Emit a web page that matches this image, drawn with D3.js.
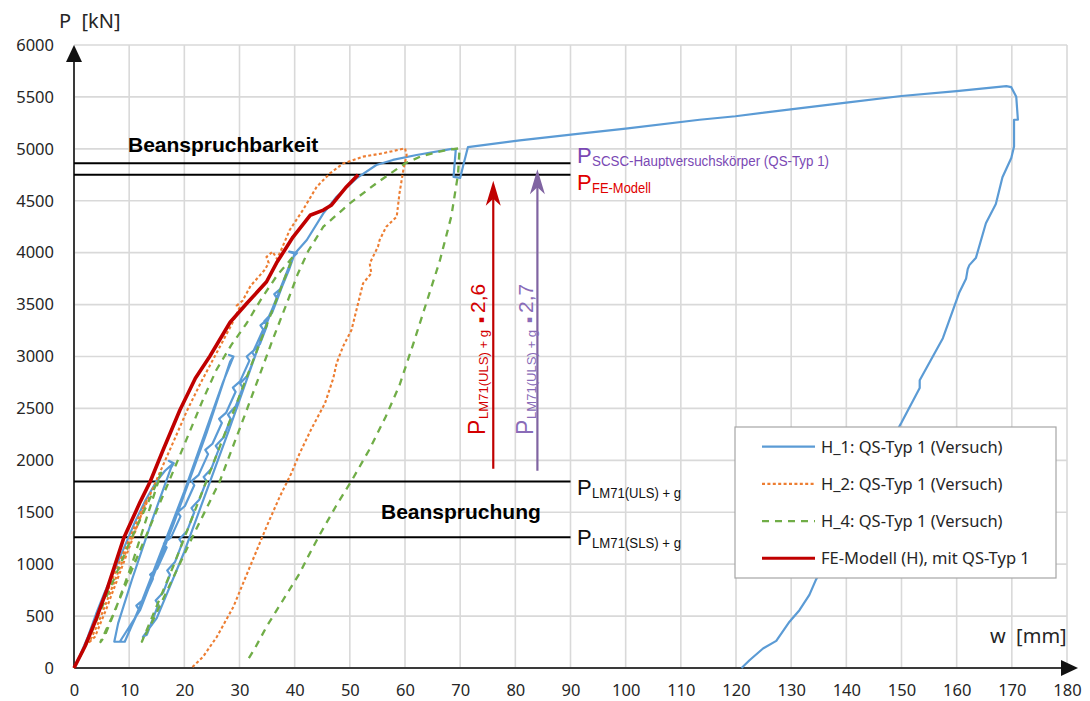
<!DOCTYPE html>
<html>
<head>
<meta charset="utf-8">
<script src="https://cdn.jsdelivr.net/npm/d3@7"></script>
<style>
  html, body { margin: 0; padding: 0; background: #fff; }
  svg { display: block; }
</style>
</head>
<body>
<svg id="chart" width="1090" height="701"></svg>
<script>
// ---- Data: deflection w [mm] and load P [kN] ----
const xTicks = d3.range(0, 181, 10);
const yTicks = d3.range(0, 6001, 500);

// H_1: QS-Typ 1 (Versuch)
const h1Points = [
  [0,0],[1,110],[2.5,300],[4,520],[5.5,720],[7,900],[9,1150],[11,1400],[13,1620],[15,1800],[16.5,1900],[18,1970],
  [17.2,1995],[18.1,1972],[17.6,1930],
  [14,1400],[10.5,850],[8,430],[7.3,253],[9.2,253],
  [12,600],[16,1150],[20,1700],[24,2300],[27,2750],[28.9,3000],
  [28.1,3015],[28.9,3000],[28.3,2950],
  [24,2260],[18,1380],[12,560],[8.3,253],[9.2,253],
  [10.4,400],[11.8,560],[11.3,600],[12.6,660],[14.3,860],[13.8,900],[15.1,960],[16.8,1160],[16.3,1200],[17.6,1260],
  [19.3,1460],[18.8,1500],[20.1,1560],[21.8,1760],[21.3,1800],[22.6,1860],[24.3,2060],[23.8,2100],[25.1,2160],
  [26.8,2360],[26.3,2400],[27.6,2460],[29.3,2660],[28.8,2700],[30.1,2760],[31.8,2960],[31.3,3000],[32.6,3060],
  [34.3,3260],[33.8,3300],[35.1,3360],[36.8,3560],[36.3,3600],[37.6,3660],[39,3840],[40,3990],
  [39,4010],[40.4,3995],[39.6,3950],
  [35,3330],[28,2280],[20,1120],[15,480],[12.5,300],[13.2,320],
  [14.2,460],[15.3,610],[14.8,650],[16.2,730],[17.4,900],[16.9,940],[18.3,1020],[19.6,1200],[19.1,1240],[20.5,1320],
  [21.8,1500],[21.3,1540],[22.7,1620],[24,1800],[23.5,1840],[24.9,1920],[26.2,2100],[25.7,2140],[27.1,2220],
  [28.4,2400],[27.9,2440],[29.3,2520],[30.6,2700],[30.1,2740],[31.5,2820],[32.8,3000],[32.3,3040],[33.7,3120],
  [35,3300],[34.5,3340],[35.9,3420],[36.8,3544],[38.6,3800],[40,3990],
  [42.2,4122],[45.2,4379],[47.6,4539],[51.2,4716],[54.8,4844],[57.8,4893],[62.1,4941],[68.5,5000],[69.2,4990],
  [68.8,4730],[70,4720],[70.6,4850],[71.4,5016],[80.8,5082],[91.7,5147],[100,5195],[113.4,5280],[119.9,5314],
  [129.9,5380],[140,5445],[150,5509],[160,5556],[169,5604],[169.9,5594],[170.8,5501],[171.1,5280],[170.4,5280],
  [170.4,5022],[169.9,4911],[168.3,4726],[167.1,4468],[165.3,4283],[163.5,3952],[162.3,3880],[162,3841],
  [161.7,3748],[160.5,3619],[157.5,3176],[153.3,2771],[153.3,2697],[150,2364],[142,1600],[134.5,851],
  [133.3,704],[131.5,557],[129.7,446],[127.3,261],[124.9,188],[122.5,77],[121,0]
];

// H_2: QS-Typ 1 (Versuch)
const h2Points = [
  [0,0],[1.8,180],[3.5,400],[5.6,680],[7.7,950],[9.7,1200],[11.7,1450],[13.2,1620],
  [11,1300],[8.4,930],[5.8,560],[3.8,300],[2.8,250],
  [4.3,420],[6.8,760],[9.3,1100],[11.8,1420],[14.2,1720],[16.2,1960],[18.2,2200],[20.5,2480],[23,2750],
  [25.5,3000],[27,3150],[28.5,3300],[30,3470],[29.5,3490],[30.6,3540],[32,3680],[34.5,3830],[35.3,3900],
  [34.9,3960],[36,4010],[36.8,3940],[37.5,4020],[39.1,4218],[41.5,4411],[44,4635],[46.4,4764],[48.8,4860],
  [52.4,4925],[56,4957],[60,5005],
  [60.3,4941],[59.7,4796],[59,4572],[58.5,4347],[56.6,4250],[55.4,4122],[55.1,4057],[53.6,3897],[53.9,3801],
  [52.4,3705],[51.2,3448],[50.3,3255],[48.8,3100],[47.6,2935],[47,2790],[45.5,2550],[43,2300],[40.9,2067],
  [39.4,1875],[37.3,1650],[34.9,1361],[31.9,976],[28.9,590],[25.9,301],[23.4,109],[21.3,0]
];

// H_4: QS-Typ 1 (Versuch)
const h4Points = [
  [0,0],[2,200],[4,450],[6,700],[8,950],[10,1200],[12,1430],[14,1660],[15.8,1880],
  [13.5,1500],[10.5,1000],[7.5,560],[5.5,300],[4.8,250],
  [6.8,480],[9.5,820],[12.5,1200],[15.5,1580],[18.5,1960],[21,2280],[23.5,2600],[25.8,2870],
  [28.5,3110],[31.3,3320],[34,3560],[36.8,3780],[39.7,3961],
  [36,3450],[30,2620],[24,1800],[18,980],[14,470],[12.3,253],
  [14.5,480],[17,760],[19.5,1040],[22,1320],[24.5,1590],[26.4,1794],[28.5,2090],[31,2440],[33.5,2800],
  [36,3160],[38.8,3544],[40.6,3800],[42.5,4020],[45.2,4250],[50,4475],[54.8,4668],[60,4860],[63,4930],
  [67.5,4989],[69.9,5005],
  [69.6,4750],[68.4,4351],[66.3,3920],[63.9,3521],[61.5,3122],[59,2723],[56.5,2420],[53.5,2100],[50.5,1820],
  [47.5,1560],[44.5,1280],[42.5,1080],[40.9,912],[37.9,655],[34.9,398],[32.8,190],[31.3,60]
];

// FE-Modell (H), mit QS-Typ 1
const fePoints = [
  [0,0],[2,210],[4,470],[6,760],[9,1250],[12,1600],[13.8,1794],[16,2080],[19.2,2485],[22,2790],[24.6,3000],
  [28.3,3330],[31.3,3510],[34.9,3720],[36.7,3900],[39.7,4150],[42.8,4360],[45.2,4410],[46.7,4460],[49.4,4635],[51.5,4750]
];

// Reference load levels [kN]
const pScsc = 4860;
const pFe = 4750;
const pUls = 1795;
const pSls = 1260;
// Position of the vertical factor arrows [mm] and their start load [kN]
const arrowW = [76, 84];
const arrowFrom = [1920, 1900];

const legendLabels = [
  "H_1: QS-Typ 1 (Versuch)",
  "H_2: QS-Typ 1 (Versuch)",
  "H_4: QS-Typ 1 (Versuch)",
  "FE-Modell (H), mit QS-Typ 1"
];

// ---- Drawing ----
const svg = d3.select("#chart");
const x = d3.scaleLinear().domain([0, 180]).range([74, 1067]);
const y = d3.scaleLinear().domain([0, 6000]).range([668, 45]);

const numFont = "'Noto Sans', 'Open Sans', sans-serif";
const arial = "'Liberation Sans', Arial, sans-serif";
const textCol = "#262626";

svg.append("rect").attr("width", 1090).attr("height", 701).attr("fill", "#fff");

// grid
const grid = svg.append("g").attr("stroke", "#d9d9d9").attr("stroke-width", 1.6);
grid.selectAll("line.v").data(xTicks.filter(d => d > 0)).join("line")
  .attr("x1", d => x(d)).attr("x2", d => x(d)).attr("y1", y(0)).attr("y2", y(6000));
grid.selectAll("line.h").data(yTicks.filter(d => d > 0)).join("line")
  .attr("x1", x(0)).attr("x2", x(180)).attr("y1", d => y(d)).attr("y2", d => y(d));

// axes tick labels
const xAxis = svg.append("g").attr("transform", `translate(0,${y(0)})`)
  .call(d3.axisBottom(x).tickValues(xTicks).tickFormat(d3.format("d")).tickSize(0).tickPadding(16));
const yAxis = svg.append("g").attr("transform", `translate(${x(0)},0)`)
  .call(d3.axisLeft(y).tickValues(yTicks).tickFormat(d3.format("d")).tickSize(0).tickPadding(20));
[xAxis, yAxis].forEach(a => {
  a.select(".domain").remove();
  a.selectAll("text").attr("font-family", numFont).attr("font-size", 16.5).attr("fill", textCol);
});

// axis lines with arrowheads
svg.append("line").attr("x1", x(0)).attr("x2", x(0)).attr("y1", y(0)).attr("y2", 60)
  .attr("stroke", "#3a3a3a").attr("stroke-width", 2);
svg.append("path").attr("d", `M${x(0)},45 L${x(0)-8},62 L${x(0)+8},62 Z`).attr("fill", "#111");
svg.append("line").attr("x1", x(0)).attr("x2", 1062).attr("y1", y(0)).attr("y2", y(0))
  .attr("stroke", "#3a3a3a").attr("stroke-width", 2);
svg.append("path").attr("d", `M1078,${y(0)} L1061,${y(0)-8} L1061,${y(0)+8} Z`).attr("fill", "#111");

// axis titles
svg.append("text").attr("x", 59).attr("y", 28).attr("font-family", numFont).attr("font-size", 20)
  .attr("fill", textCol).attr("xml:space", "preserve").text("P  [kN]");
svg.append("text").attr("x", 990).attr("y", 643).attr("font-family", numFont).attr("font-size", 20)
  .attr("fill", textCol).attr("xml:space", "preserve").text("w  [mm]");

// reference levels
const refLevels = [pScsc, pFe, pUls, pSls];
svg.append("g").selectAll("line").data(refLevels).join("line")
  .attr("x1", x(0)).attr("x2", x(90)).attr("y1", d => y(d)).attr("y2", d => y(d))
  .attr("stroke", "#000").attr("stroke-width", 2);

// curves
const line = d3.line().x(d => x(d[0])).y(d => y(d[1]));
const series = [
  { pts: h1Points, color: "#5b9bd5", width: 2.2, dash: null },
  { pts: h2Points, color: "#ed7d31", width: 2.1, dash: "3,2.4" },
  { pts: h4Points, color: "#70ad47", width: 2.3, dash: "7,6" },
  { pts: fePoints, color: "#c00000", width: 3.6, dash: null }
];
svg.append("g").selectAll("path").data(series).join("path")
  .attr("d", d => line(d.pts))
  .attr("fill", "none")
  .attr("stroke", d => d.color)
  .attr("stroke-width", d => d.width)
  .attr("stroke-dasharray", d => d.dash)
  .attr("stroke-linejoin", "round");

// labels on the right of the reference levels
function levelLabel(px, py, sub, color, subLen) {
  svg.append("text").attr("x", px).attr("y", py).attr("font-family", arial).attr("font-size", 22)
    .attr("fill", color).text("P");
  svg.append("text").attr("x", px + 15).attr("y", py + 3).attr("font-family", arial).attr("font-size", 14)
    .attr("fill", color).attr("textLength", subLen).attr("lengthAdjust", "spacingAndGlyphs").text(sub);
}
levelLabel(577, 163, "SCSC-Hauptversuchskörper (QS-Typ 1)", "#7a48b4", 237);
levelLabel(577, 190, "FE-Modell", "#e00000", 59);
levelLabel(577, 495, "LM71(ULS) + g", "#111", 89);
levelLabel(577, 545, "LM71(SLS) + g", "#111", 89);

// category captions
svg.append("text").attr("x", 128).attr("y", 152).attr("font-family", arial).attr("font-weight", "bold")
  .attr("font-size", 21).attr("fill", "#000").text("Beanspruchbarkeit");
svg.append("text").attr("x", 381).attr("y", 519).attr("font-family", arial).attr("font-weight", "bold")
  .attr("font-size", 21).attr("fill", "#000").text("Beanspruchung");

// factor arrows with rotated captions
const arrows = [
  { w: arrowW[0], from: arrowFrom[0], to: pFe, color: "#c00000", txt: "#d40000", factor: "2,6", base: 485 },
  { w: arrowW[1], from: arrowFrom[1], to: pScsc, color: "#8064a2", txt: "#8a6cb8", factor: "2,7", base: 533 }
];
arrows.forEach(a => {
  const ax = x(a.w), ty = y(a.to) + 6;
  svg.append("line").attr("x1", ax).attr("x2", ax).attr("y1", y(a.from)).attr("y2", ty + 12)
    .attr("stroke", a.color).attr("stroke-width", 2.2);
  svg.append("path").attr("d", `M${ax},${ty} L${ax - 7.5},${ty + 25} L${ax},${ty + 18} L${ax + 7.5},${ty + 25} Z`)
    .attr("fill", a.color);
  const g = svg.append("g").attr("transform", `translate(${a.base},435) rotate(-90)`);
  g.append("text").attr("x", 0).attr("y", 0).attr("font-family", arial).attr("font-size", 23)
    .attr("fill", a.txt).text("P");
  g.append("text").attr("x", 16).attr("y", 3).attr("font-family", arial).attr("font-size", 13)
    .attr("fill", a.txt).attr("textLength", 89).attr("lengthAdjust", "spacingAndGlyphs").text("LM71(ULS) + g");
  g.append("text").attr("x", 112).attr("y", -1).attr("font-family", "'DejaVu Sans', sans-serif").attr("font-size", 9)
    .attr("fill", a.txt).text("\u25aa");
  g.append("text").attr("x", 122).attr("y", 0).attr("font-family", arial).attr("font-size", 21)
    .attr("fill", a.txt).text(a.factor);
});

// legend
const lg = svg.append("g");
lg.append("rect").attr("x", 735).attr("y", 427).attr("width", 321).attr("height", 151)
  .attr("fill", "#fff").attr("stroke", "#a6a6a6").attr("stroke-width", 1.2);
const legendRows = lg.selectAll("g.row").data(series).join("g")
  .attr("transform", (d, i) => `translate(0,${446.7 + i * 37.2})`);
legendRows.append("line").attr("x1", 762).attr("x2", 815).attr("y1", 0).attr("y2", 0)
  .attr("stroke", d => d.color).attr("stroke-width", d => Math.min(d.width, 3))
  .attr("stroke-dasharray", d => d.dash);
legendRows.append("text").attr("x", 821).attr("y", 6).attr("font-family", numFont).attr("font-size", 16.5)
  .attr("fill", textCol).text((d, i) => legendLabels[i]);
</script>
</body>
</html>
